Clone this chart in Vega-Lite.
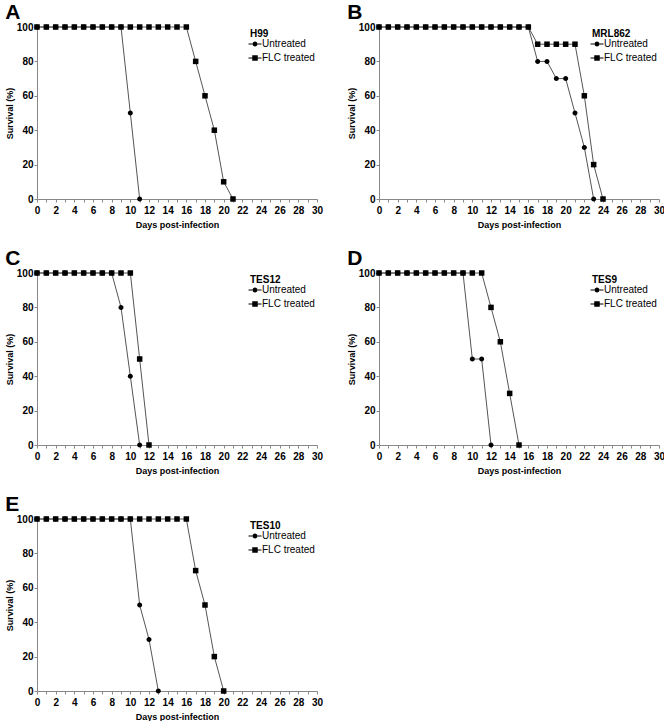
{
  "$schema": "https://vega.github.io/schema/vega-lite/v6.json",
  "padding": {"left": 5, "top": 2, "right": 0, "bottom": 0},
  "background": "white",
  "data": {"values": [
    {"panel":"A","group":"Untreated","day":0,"survival":100},{"panel":"A","group":"Untreated","day":1,"survival":100},{"panel":"A","group":"Untreated","day":2,"survival":100},{"panel":"A","group":"Untreated","day":3,"survival":100},{"panel":"A","group":"Untreated","day":4,"survival":100},{"panel":"A","group":"Untreated","day":5,"survival":100},{"panel":"A","group":"Untreated","day":6,"survival":100},{"panel":"A","group":"Untreated","day":7,"survival":100},{"panel":"A","group":"Untreated","day":8,"survival":100},{"panel":"A","group":"Untreated","day":9,"survival":100},{"panel":"A","group":"Untreated","day":10,"survival":50},{"panel":"A","group":"Untreated","day":11,"survival":0},
    {"panel":"A","group":"FLC treated","day":0,"survival":100},{"panel":"A","group":"FLC treated","day":1,"survival":100},{"panel":"A","group":"FLC treated","day":2,"survival":100},{"panel":"A","group":"FLC treated","day":3,"survival":100},{"panel":"A","group":"FLC treated","day":4,"survival":100},{"panel":"A","group":"FLC treated","day":5,"survival":100},{"panel":"A","group":"FLC treated","day":6,"survival":100},{"panel":"A","group":"FLC treated","day":7,"survival":100},{"panel":"A","group":"FLC treated","day":8,"survival":100},{"panel":"A","group":"FLC treated","day":9,"survival":100},{"panel":"A","group":"FLC treated","day":10,"survival":100},{"panel":"A","group":"FLC treated","day":11,"survival":100},{"panel":"A","group":"FLC treated","day":12,"survival":100},{"panel":"A","group":"FLC treated","day":13,"survival":100},{"panel":"A","group":"FLC treated","day":14,"survival":100},{"panel":"A","group":"FLC treated","day":15,"survival":100},{"panel":"A","group":"FLC treated","day":16,"survival":100},{"panel":"A","group":"FLC treated","day":17,"survival":80},{"panel":"A","group":"FLC treated","day":18,"survival":60},{"panel":"A","group":"FLC treated","day":19,"survival":40},{"panel":"A","group":"FLC treated","day":20,"survival":10},{"panel":"A","group":"FLC treated","day":21,"survival":0},

    {"panel":"B","group":"Untreated","day":0,"survival":100},{"panel":"B","group":"Untreated","day":1,"survival":100},{"panel":"B","group":"Untreated","day":2,"survival":100},{"panel":"B","group":"Untreated","day":3,"survival":100},{"panel":"B","group":"Untreated","day":4,"survival":100},{"panel":"B","group":"Untreated","day":5,"survival":100},{"panel":"B","group":"Untreated","day":6,"survival":100},{"panel":"B","group":"Untreated","day":7,"survival":100},{"panel":"B","group":"Untreated","day":8,"survival":100},{"panel":"B","group":"Untreated","day":9,"survival":100},{"panel":"B","group":"Untreated","day":10,"survival":100},{"panel":"B","group":"Untreated","day":11,"survival":100},{"panel":"B","group":"Untreated","day":12,"survival":100},{"panel":"B","group":"Untreated","day":13,"survival":100},{"panel":"B","group":"Untreated","day":14,"survival":100},{"panel":"B","group":"Untreated","day":15,"survival":100},{"panel":"B","group":"Untreated","day":16,"survival":100},{"panel":"B","group":"Untreated","day":17,"survival":80},{"panel":"B","group":"Untreated","day":18,"survival":80},{"panel":"B","group":"Untreated","day":19,"survival":70},{"panel":"B","group":"Untreated","day":20,"survival":70},{"panel":"B","group":"Untreated","day":21,"survival":50},{"panel":"B","group":"Untreated","day":22,"survival":30},{"panel":"B","group":"Untreated","day":23,"survival":0},
    {"panel":"B","group":"FLC treated","day":0,"survival":100},{"panel":"B","group":"FLC treated","day":1,"survival":100},{"panel":"B","group":"FLC treated","day":2,"survival":100},{"panel":"B","group":"FLC treated","day":3,"survival":100},{"panel":"B","group":"FLC treated","day":4,"survival":100},{"panel":"B","group":"FLC treated","day":5,"survival":100},{"panel":"B","group":"FLC treated","day":6,"survival":100},{"panel":"B","group":"FLC treated","day":7,"survival":100},{"panel":"B","group":"FLC treated","day":8,"survival":100},{"panel":"B","group":"FLC treated","day":9,"survival":100},{"panel":"B","group":"FLC treated","day":10,"survival":100},{"panel":"B","group":"FLC treated","day":11,"survival":100},{"panel":"B","group":"FLC treated","day":12,"survival":100},{"panel":"B","group":"FLC treated","day":13,"survival":100},{"panel":"B","group":"FLC treated","day":14,"survival":100},{"panel":"B","group":"FLC treated","day":15,"survival":100},{"panel":"B","group":"FLC treated","day":16,"survival":100},{"panel":"B","group":"FLC treated","day":17,"survival":90},{"panel":"B","group":"FLC treated","day":18,"survival":90},{"panel":"B","group":"FLC treated","day":19,"survival":90},{"panel":"B","group":"FLC treated","day":20,"survival":90},{"panel":"B","group":"FLC treated","day":21,"survival":90},{"panel":"B","group":"FLC treated","day":22,"survival":60},{"panel":"B","group":"FLC treated","day":23,"survival":20},{"panel":"B","group":"FLC treated","day":24,"survival":0},

    {"panel":"C","group":"Untreated","day":0,"survival":100},{"panel":"C","group":"Untreated","day":1,"survival":100},{"panel":"C","group":"Untreated","day":2,"survival":100},{"panel":"C","group":"Untreated","day":3,"survival":100},{"panel":"C","group":"Untreated","day":4,"survival":100},{"panel":"C","group":"Untreated","day":5,"survival":100},{"panel":"C","group":"Untreated","day":6,"survival":100},{"panel":"C","group":"Untreated","day":7,"survival":100},{"panel":"C","group":"Untreated","day":8,"survival":100},{"panel":"C","group":"Untreated","day":9,"survival":80},{"panel":"C","group":"Untreated","day":10,"survival":40},{"panel":"C","group":"Untreated","day":11,"survival":0},
    {"panel":"C","group":"FLC treated","day":0,"survival":100},{"panel":"C","group":"FLC treated","day":1,"survival":100},{"panel":"C","group":"FLC treated","day":2,"survival":100},{"panel":"C","group":"FLC treated","day":3,"survival":100},{"panel":"C","group":"FLC treated","day":4,"survival":100},{"panel":"C","group":"FLC treated","day":5,"survival":100},{"panel":"C","group":"FLC treated","day":6,"survival":100},{"panel":"C","group":"FLC treated","day":7,"survival":100},{"panel":"C","group":"FLC treated","day":8,"survival":100},{"panel":"C","group":"FLC treated","day":9,"survival":100},{"panel":"C","group":"FLC treated","day":10,"survival":100},{"panel":"C","group":"FLC treated","day":11,"survival":50},{"panel":"C","group":"FLC treated","day":12,"survival":0},

    {"panel":"D","group":"Untreated","day":0,"survival":100},{"panel":"D","group":"Untreated","day":1,"survival":100},{"panel":"D","group":"Untreated","day":2,"survival":100},{"panel":"D","group":"Untreated","day":3,"survival":100},{"panel":"D","group":"Untreated","day":4,"survival":100},{"panel":"D","group":"Untreated","day":5,"survival":100},{"panel":"D","group":"Untreated","day":6,"survival":100},{"panel":"D","group":"Untreated","day":7,"survival":100},{"panel":"D","group":"Untreated","day":8,"survival":100},{"panel":"D","group":"Untreated","day":9,"survival":100},{"panel":"D","group":"Untreated","day":10,"survival":50},{"panel":"D","group":"Untreated","day":11,"survival":50},{"panel":"D","group":"Untreated","day":12,"survival":0},
    {"panel":"D","group":"FLC treated","day":0,"survival":100},{"panel":"D","group":"FLC treated","day":1,"survival":100},{"panel":"D","group":"FLC treated","day":2,"survival":100},{"panel":"D","group":"FLC treated","day":3,"survival":100},{"panel":"D","group":"FLC treated","day":4,"survival":100},{"panel":"D","group":"FLC treated","day":5,"survival":100},{"panel":"D","group":"FLC treated","day":6,"survival":100},{"panel":"D","group":"FLC treated","day":7,"survival":100},{"panel":"D","group":"FLC treated","day":8,"survival":100},{"panel":"D","group":"FLC treated","day":9,"survival":100},{"panel":"D","group":"FLC treated","day":10,"survival":100},{"panel":"D","group":"FLC treated","day":11,"survival":100},{"panel":"D","group":"FLC treated","day":12,"survival":80},{"panel":"D","group":"FLC treated","day":13,"survival":60},{"panel":"D","group":"FLC treated","day":14,"survival":30},{"panel":"D","group":"FLC treated","day":15,"survival":0},

    {"panel":"E","group":"Untreated","day":0,"survival":100},{"panel":"E","group":"Untreated","day":1,"survival":100},{"panel":"E","group":"Untreated","day":2,"survival":100},{"panel":"E","group":"Untreated","day":3,"survival":100},{"panel":"E","group":"Untreated","day":4,"survival":100},{"panel":"E","group":"Untreated","day":5,"survival":100},{"panel":"E","group":"Untreated","day":6,"survival":100},{"panel":"E","group":"Untreated","day":7,"survival":100},{"panel":"E","group":"Untreated","day":8,"survival":100},{"panel":"E","group":"Untreated","day":9,"survival":100},{"panel":"E","group":"Untreated","day":10,"survival":100},{"panel":"E","group":"Untreated","day":11,"survival":50},{"panel":"E","group":"Untreated","day":12,"survival":30},{"panel":"E","group":"Untreated","day":13,"survival":0},
    {"panel":"E","group":"FLC treated","day":0,"survival":100},{"panel":"E","group":"FLC treated","day":1,"survival":100},{"panel":"E","group":"FLC treated","day":2,"survival":100},{"panel":"E","group":"FLC treated","day":3,"survival":100},{"panel":"E","group":"FLC treated","day":4,"survival":100},{"panel":"E","group":"FLC treated","day":5,"survival":100},{"panel":"E","group":"FLC treated","day":6,"survival":100},{"panel":"E","group":"FLC treated","day":7,"survival":100},{"panel":"E","group":"FLC treated","day":8,"survival":100},{"panel":"E","group":"FLC treated","day":9,"survival":100},{"panel":"E","group":"FLC treated","day":10,"survival":100},{"panel":"E","group":"FLC treated","day":11,"survival":100},{"panel":"E","group":"FLC treated","day":12,"survival":100},{"panel":"E","group":"FLC treated","day":13,"survival":100},{"panel":"E","group":"FLC treated","day":14,"survival":100},{"panel":"E","group":"FLC treated","day":15,"survival":100},{"panel":"E","group":"FLC treated","day":16,"survival":100},{"panel":"E","group":"FLC treated","day":17,"survival":70},{"panel":"E","group":"FLC treated","day":18,"survival":50},{"panel":"E","group":"FLC treated","day":19,"survival":20},{"panel":"E","group":"FLC treated","day":20,"survival":0}
  ]},
  "columns": 2,
  "spacing": {"row": 19, "column": 24},
  "resolve": {"scale": {"shape": "independent"}, "legend": {"shape": "independent"}},
  "concat": [
    {
      "title": {"text": "A"},
      "width": 280, "height": 172,
      "transform": [{"filter": "datum.panel === 'A'"}],
      "layer": [
        {"mark": {"type": "line", "color": "#555555", "strokeWidth": 1}, "encoding": {"x": {"field": "day", "type": "quantitative", "scale": {"domain": [0, 30], "nice": false}, "axis": {"title": "Days post-infection", "tickCount": 31, "labelOverlap": false, "labelBound": false, "values": [0,1,2,3,4,5,6,7,8,9,10,11,12,13,14,15,16,17,18,19,20,21,22,23,24,25,26,27,28,29,30], "labelExpr": "datum.value % 2 === 0 ? datum.label : ''"}}, "y": {"field": "survival", "type": "quantitative", "scale": {"domain": [0, 100], "nice": false}, "axis": {"title": "Survival (%)", "tickCount": 6, "labelOverlap": false, "labelBound": false, "values": [0,20,40,60,80,100]}}, "detail": {"field": "group"}}},
        {"mark": {"type": "point", "filled": true, "color": "black", "opacity": 1, "size": 25}, "encoding": {"x": {"field": "day", "type": "quantitative"}, "y": {"field": "survival", "type": "quantitative"}, "shape": {"field": "group", "scale": {"domain": ["Untreated", "FLC treated"], "range": ["M-1,0A1,1 0 1,0 1,0A1,1 0 1,0 -1,0Z", "M-1.1,-1.1H1.1V1.1H-1.1Z"]}, "legend": null}}},
        {"transform": [{"filter": "datum.day < 0"}], "mark": {"type": "point", "filled": true, "color": "black", "opacity": 1, "size": 25}, "encoding": {"x": {"field": "day", "type": "quantitative"}, "y": {"field": "survival", "type": "quantitative"}, "shape": {"field": "group", "scale": {"domain": ["Untreated", "FLC treated"], "range": ["M-2.6,-0.2H-0.9V0.2H-2.6ZM0.9,-0.2H2.6V0.2H0.9ZM-1,0A1,1 0 1,0 1,0A1,1 0 1,0 -1,0Z", "M-2.6,-0.2H-1V0.2H-2.6ZM1,-0.2H2.6V0.2H1ZM-1.1,-1.1H1.1V1.1H-1.1Z"]}, "legend": {"title": "H99"}}}}
      ],
      "resolve": {"scale": {"shape": "independent"}}
    },
    {
      "title": {"text": "B"},
      "width": 280, "height": 172,
      "transform": [{"filter": "datum.panel === 'B'"}],
      "layer": [
        {"mark": {"type": "line", "color": "#555555", "strokeWidth": 1}, "encoding": {"x": {"field": "day", "type": "quantitative", "scale": {"domain": [0, 30], "nice": false}, "axis": {"title": "Days post-infection", "tickCount": 31, "labelOverlap": false, "labelBound": false, "values": [0,1,2,3,4,5,6,7,8,9,10,11,12,13,14,15,16,17,18,19,20,21,22,23,24,25,26,27,28,29,30], "labelExpr": "datum.value % 2 === 0 ? datum.label : ''"}}, "y": {"field": "survival", "type": "quantitative", "scale": {"domain": [0, 100], "nice": false}, "axis": {"title": "Survival (%)", "tickCount": 6, "labelOverlap": false, "labelBound": false, "values": [0,20,40,60,80,100]}}, "detail": {"field": "group"}}},
        {"mark": {"type": "point", "filled": true, "color": "black", "opacity": 1, "size": 25}, "encoding": {"x": {"field": "day", "type": "quantitative"}, "y": {"field": "survival", "type": "quantitative"}, "shape": {"field": "group", "scale": {"domain": ["Untreated", "FLC treated"], "range": ["M-1,0A1,1 0 1,0 1,0A1,1 0 1,0 -1,0Z", "M-1.1,-1.1H1.1V1.1H-1.1Z"]}, "legend": null}}},
        {"transform": [{"filter": "datum.day < 0"}], "mark": {"type": "point", "filled": true, "color": "black", "opacity": 1, "size": 25}, "encoding": {"x": {"field": "day", "type": "quantitative"}, "y": {"field": "survival", "type": "quantitative"}, "shape": {"field": "group", "scale": {"domain": ["Untreated", "FLC treated"], "range": ["M-2.6,-0.2H-0.9V0.2H-2.6ZM0.9,-0.2H2.6V0.2H0.9ZM-1,0A1,1 0 1,0 1,0A1,1 0 1,0 -1,0Z", "M-2.6,-0.2H-1V0.2H-2.6ZM1,-0.2H2.6V0.2H1ZM-1.1,-1.1H1.1V1.1H-1.1Z"]}, "legend": {"title": "MRL862"}}}}
      ],
      "resolve": {"scale": {"shape": "independent"}}
    },
    {
      "title": {"text": "C"},
      "width": 280, "height": 172,
      "transform": [{"filter": "datum.panel === 'C'"}],
      "layer": [
        {"mark": {"type": "line", "color": "#555555", "strokeWidth": 1}, "encoding": {"x": {"field": "day", "type": "quantitative", "scale": {"domain": [0, 30], "nice": false}, "axis": {"title": "Days post-infection", "tickCount": 31, "labelOverlap": false, "labelBound": false, "values": [0,1,2,3,4,5,6,7,8,9,10,11,12,13,14,15,16,17,18,19,20,21,22,23,24,25,26,27,28,29,30], "labelExpr": "datum.value % 2 === 0 ? datum.label : ''"}}, "y": {"field": "survival", "type": "quantitative", "scale": {"domain": [0, 100], "nice": false}, "axis": {"title": "Survival (%)", "tickCount": 6, "labelOverlap": false, "labelBound": false, "values": [0,20,40,60,80,100]}}, "detail": {"field": "group"}}},
        {"mark": {"type": "point", "filled": true, "color": "black", "opacity": 1, "size": 25}, "encoding": {"x": {"field": "day", "type": "quantitative"}, "y": {"field": "survival", "type": "quantitative"}, "shape": {"field": "group", "scale": {"domain": ["Untreated", "FLC treated"], "range": ["M-1,0A1,1 0 1,0 1,0A1,1 0 1,0 -1,0Z", "M-1.1,-1.1H1.1V1.1H-1.1Z"]}, "legend": null}}},
        {"transform": [{"filter": "datum.day < 0"}], "mark": {"type": "point", "filled": true, "color": "black", "opacity": 1, "size": 25}, "encoding": {"x": {"field": "day", "type": "quantitative"}, "y": {"field": "survival", "type": "quantitative"}, "shape": {"field": "group", "scale": {"domain": ["Untreated", "FLC treated"], "range": ["M-2.6,-0.2H-0.9V0.2H-2.6ZM0.9,-0.2H2.6V0.2H0.9ZM-1,0A1,1 0 1,0 1,0A1,1 0 1,0 -1,0Z", "M-2.6,-0.2H-1V0.2H-2.6ZM1,-0.2H2.6V0.2H1ZM-1.1,-1.1H1.1V1.1H-1.1Z"]}, "legend": {"title": "TES12"}}}}
      ],
      "resolve": {"scale": {"shape": "independent"}}
    },
    {
      "title": {"text": "D"},
      "width": 280, "height": 172,
      "transform": [{"filter": "datum.panel === 'D'"}],
      "layer": [
        {"mark": {"type": "line", "color": "#555555", "strokeWidth": 1}, "encoding": {"x": {"field": "day", "type": "quantitative", "scale": {"domain": [0, 30], "nice": false}, "axis": {"title": "Days post-infection", "tickCount": 31, "labelOverlap": false, "labelBound": false, "values": [0,1,2,3,4,5,6,7,8,9,10,11,12,13,14,15,16,17,18,19,20,21,22,23,24,25,26,27,28,29,30], "labelExpr": "datum.value % 2 === 0 ? datum.label : ''"}}, "y": {"field": "survival", "type": "quantitative", "scale": {"domain": [0, 100], "nice": false}, "axis": {"title": "Survival (%)", "tickCount": 6, "labelOverlap": false, "labelBound": false, "values": [0,20,40,60,80,100]}}, "detail": {"field": "group"}}},
        {"mark": {"type": "point", "filled": true, "color": "black", "opacity": 1, "size": 25}, "encoding": {"x": {"field": "day", "type": "quantitative"}, "y": {"field": "survival", "type": "quantitative"}, "shape": {"field": "group", "scale": {"domain": ["Untreated", "FLC treated"], "range": ["M-1,0A1,1 0 1,0 1,0A1,1 0 1,0 -1,0Z", "M-1.1,-1.1H1.1V1.1H-1.1Z"]}, "legend": null}}},
        {"transform": [{"filter": "datum.day < 0"}], "mark": {"type": "point", "filled": true, "color": "black", "opacity": 1, "size": 25}, "encoding": {"x": {"field": "day", "type": "quantitative"}, "y": {"field": "survival", "type": "quantitative"}, "shape": {"field": "group", "scale": {"domain": ["Untreated", "FLC treated"], "range": ["M-2.6,-0.2H-0.9V0.2H-2.6ZM0.9,-0.2H2.6V0.2H0.9ZM-1,0A1,1 0 1,0 1,0A1,1 0 1,0 -1,0Z", "M-2.6,-0.2H-1V0.2H-2.6ZM1,-0.2H2.6V0.2H1ZM-1.1,-1.1H1.1V1.1H-1.1Z"]}, "legend": {"title": "TES9"}}}}
      ],
      "resolve": {"scale": {"shape": "independent"}}
    },
    {
      "title": {"text": "E"},
      "width": 280, "height": 172,
      "transform": [{"filter": "datum.panel === 'E'"}],
      "layer": [
        {"mark": {"type": "line", "color": "#555555", "strokeWidth": 1}, "encoding": {"x": {"field": "day", "type": "quantitative", "scale": {"domain": [0, 30], "nice": false}, "axis": {"title": "Days post-infection", "tickCount": 31, "labelOverlap": false, "labelBound": false, "values": [0,1,2,3,4,5,6,7,8,9,10,11,12,13,14,15,16,17,18,19,20,21,22,23,24,25,26,27,28,29,30], "labelExpr": "datum.value % 2 === 0 ? datum.label : ''"}}, "y": {"field": "survival", "type": "quantitative", "scale": {"domain": [0, 100], "nice": false}, "axis": {"title": "Survival (%)", "tickCount": 6, "labelOverlap": false, "labelBound": false, "values": [0,20,40,60,80,100]}}, "detail": {"field": "group"}}},
        {"mark": {"type": "point", "filled": true, "color": "black", "opacity": 1, "size": 25}, "encoding": {"x": {"field": "day", "type": "quantitative"}, "y": {"field": "survival", "type": "quantitative"}, "shape": {"field": "group", "scale": {"domain": ["Untreated", "FLC treated"], "range": ["M-1,0A1,1 0 1,0 1,0A1,1 0 1,0 -1,0Z", "M-1.1,-1.1H1.1V1.1H-1.1Z"]}, "legend": null}}},
        {"transform": [{"filter": "datum.day < 0"}], "mark": {"type": "point", "filled": true, "color": "black", "opacity": 1, "size": 25}, "encoding": {"x": {"field": "day", "type": "quantitative"}, "y": {"field": "survival", "type": "quantitative"}, "shape": {"field": "group", "scale": {"domain": ["Untreated", "FLC treated"], "range": ["M-2.6,-0.2H-0.9V0.2H-2.6ZM0.9,-0.2H2.6V0.2H0.9ZM-1,0A1,1 0 1,0 1,0A1,1 0 1,0 -1,0Z", "M-2.6,-0.2H-1V0.2H-2.6ZM1,-0.2H2.6V0.2H1ZM-1.1,-1.1H1.1V1.1H-1.1Z"]}, "legend": {"title": "TES10"}}}}
      ],
      "resolve": {"scale": {"shape": "independent"}}
    }
  ],
  "config": {
    "view": {"stroke": null},
    "font": "Liberation Sans",
    "title": {"anchor": "start", "fontSize": 21, "fontWeight": "bold", "font": "Liberation Sans", "color": "black", "offset": -1},
    "axis": {"grid": false, "labelOverlap": false, "labelFont": "Liberation Sans", "labelFontWeight": "bold", "labelFontSize": 10, "labelColor": "black", "titleFont": "Liberation Sans", "titleFontWeight": "bold", "titleFontSize": 9, "titleColor": "black", "domainColor": "#888888", "tickColor": "#888888", "tickSize": 3},
    "axisY": {"titlePadding": 2, "labelPadding": 1},
    "axisX": {"titlePadding": 5, "labelPadding": 3, "labelFlush": false},
    "legend": {"orient": "top-right", "offset": 2, "padding": 0, "titleFont": "Liberation Sans", "titleFontSize": 10, "titleFontWeight": "bold", "titleColor": "black", "titlePadding": 0, "labelFont": "Liberation Sans", "labelFontSize": 10, "labelColor": "black", "labelOffset": 2, "symbolSize": 25, "symbolFillColor": "black", "rowPadding": 2}
  }
}
